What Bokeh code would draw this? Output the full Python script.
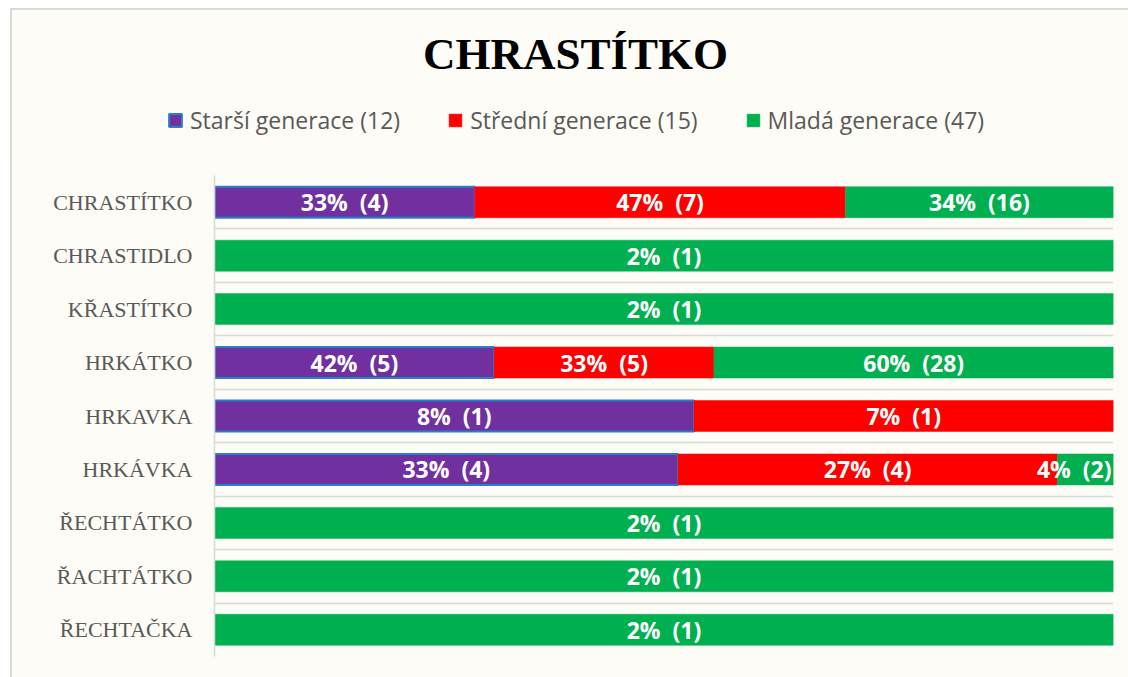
from bokeh.plotting import figure
from bokeh.layouts import column
from bokeh.models import (ColumnDataSource, FactorRange, Range1d, FixedTicker,
                          Legend, LegendItem, Label)
from bokeh.core.properties import value
from bokeh.embed import file_html
from bokeh.resources import INLINE

# ---------------- data ----------------
words = ["CHRASTÍTKO", "CHRASTIDLO", "KŘASTÍTKO", "HRKÁTKO", "HRKAVKA",
         "HRKÁVKA", "ŘECHTÁTKO", "ŘACHTÁTKO", "ŘECHTAČKA"]
series_names = ["Starší generace (12)", "Střední generace (15)", "Mladá generace (47)"]
old_pct = [33, 0, 0, 42, 8, 33, 0, 0, 0]
old_n = [4, 0, 0, 5, 1, 4, 0, 0, 0]
mid_pct = [47, 0, 0, 33, 7, 27, 0, 0, 0]
mid_n = [7, 0, 0, 5, 1, 4, 0, 0, 0]
young_pct = [34, 2, 2, 60, 0, 4, 2, 2, 2]
young_n = [16, 1, 1, 28, 0, 2, 1, 1, 1]
title_text = "CHRASTÍTKO"

# ---------------- styles ----------------
BG = "#FDFCF6"
colors = ["#7030A0", "#FF0000", "#00B050"]
outline = ["#2A7FCC", "#FF0000", "#00B050"]
line_w = [2, 0.5, 0.5]
GRID = "#D9D9D9"
TXT = "#595959"
W = 1116
HEAD_H = 155
MAIN_H = 512

# ---------------- main chart ----------------
p = figure(width=W, height=MAIN_H, output_backend="svg", toolbar_location=None,
           y_range=FactorRange(factors=list(reversed(words))),
           x_range=Range1d(0, 1),
           min_border_left=202, min_border_right=15,
           min_border_top=10, min_border_bottom=21)
p.background_fill_color = BG
p.border_fill_color = BG
p.outline_line_color = None

p.xaxis.visible = False
p.xgrid.visible = False
p.ygrid.ticker = FixedTicker(ticks=list(range(len(words) + 1)))
p.ygrid.grid_line_color = GRID
p.ygrid.grid_line_width = 1.5

ax = p.yaxis[0]
ax.axis_line_color = GRID
ax.axis_line_width = 1.5
ax.major_tick_line_color = None
ax.minor_tick_line_color = None
ax.major_tick_out = 0
ax.major_tick_in = 0
ax.major_label_standoff = 22
ax.major_label_text_font = "Liberation Serif"
ax.major_label_text_font_size = "22px"
ax.major_label_text_color = TXT

pcts = [old_pct, mid_pct, young_pct]
counts = [old_n, mid_n, young_n]
totals = [a + b + c for a, b, c in zip(old_pct, mid_pct, young_pct)]

sources = []
lab_x, lab_y, lab_t, lab_align, lab_off = [], [], [], [], []
cum = [0.0] * len(words)
for k in range(3):
    ys, lefts, rights = [], [], []
    for i, w in enumerate(words):
        v = pcts[k][i]
        if v <= 0:
            continue
        frac = v / totals[i]
        ys.append(w)
        lefts.append(cum[i])
        rights.append(cum[i] + frac)
        lab_y.append(w)
        lab_t.append(f"{v}%\u00a0 ({counts[k][i]})")
        if frac < 0.1 and cum[i] + frac > 0.999:
            # label too wide for a thin end segment: keep it inside the plot
            lab_x.append(cum[i] + frac)
            lab_align.append("right")
            lab_off.append(-2)
        else:
            lab_x.append(cum[i] + frac / 2)
            lab_align.append("center")
            lab_off.append(0)
        cum[i] += frac
    src = ColumnDataSource(dict(y=ys, left=lefts, right=rights))
    sources.append(src)
    p.hbar(y="y", left="left", right="right", height=0.58, source=src,
           fill_color=colors[k], line_color=outline[k], line_width=line_w[k])

lab_src = ColumnDataSource(dict(x=lab_x, y=lab_y, text=lab_t, align=lab_align, off=lab_off))
p.text(x="x", y="y", text="text", source=lab_src, text_align="align", x_offset="off",
       text_baseline="middle", text_color="white", text_font=value("Open Sans"),
       text_font_style="bold", text_font_size="23px")

# ---------------- header (title + legend) ----------------
head = figure(width=W, height=HEAD_H, output_backend="svg", toolbar_location=None,
              x_range=Range1d(2, 3), y_range=FactorRange(factors=list(reversed(words))),
              min_border=0, min_border_left=0, min_border_right=0,
              min_border_top=0, min_border_bottom=0)
head.axis.visible = False
head.grid.visible = False
head.outline_line_color = None
head.background_fill_color = BG
head.border_fill_color = BG

# legend proxies: same series, not drawn in the header itself
leg_renderers = []
for k in range(3):
    r = head.hbar(y="y", left="left", right="right", height=0.58, source=sources[k],
                  fill_color=colors[k], line_color=outline[k], line_width=line_w[k])
    r.visible = False
    leg_renderers.append(r)

legend = Legend(items=[LegendItem(label=n, renderers=[r]) for n, r in zip(series_names, leg_renderers)],
                orientation="horizontal", location=(155, 29),
                glyph_width=16, glyph_height=16, label_standoff=7, spacing=47,
                padding=0, margin=0, border_line_color=None, background_fill_alpha=0,
                label_text_font="Open Sans", label_text_font_size="23px",
                label_text_color=TXT, click_policy="none")
head.add_layout(legend, "center")

head.add_layout(Label(x=563, y=112, x_units="screen", y_units="screen", text=title_text,
                      text_align="center", text_baseline="alphabetic",
                      text_font="Liberation Serif", text_font_style="bold",
                      text_font_size="45px", text_color="black"))

for fig in (head, p):
    try:
        fig.frame_align = False
    except Exception:
        pass

layout = column(head, p, spacing=0)
layout.styles = {"margin-left": "10px", "margin-top": "8px",
                 "border-top": "2px solid #D9D9D9", "border-left": "2px solid #D9D9D9"}

open("out.html", "w").write(file_html(layout, INLINE))
